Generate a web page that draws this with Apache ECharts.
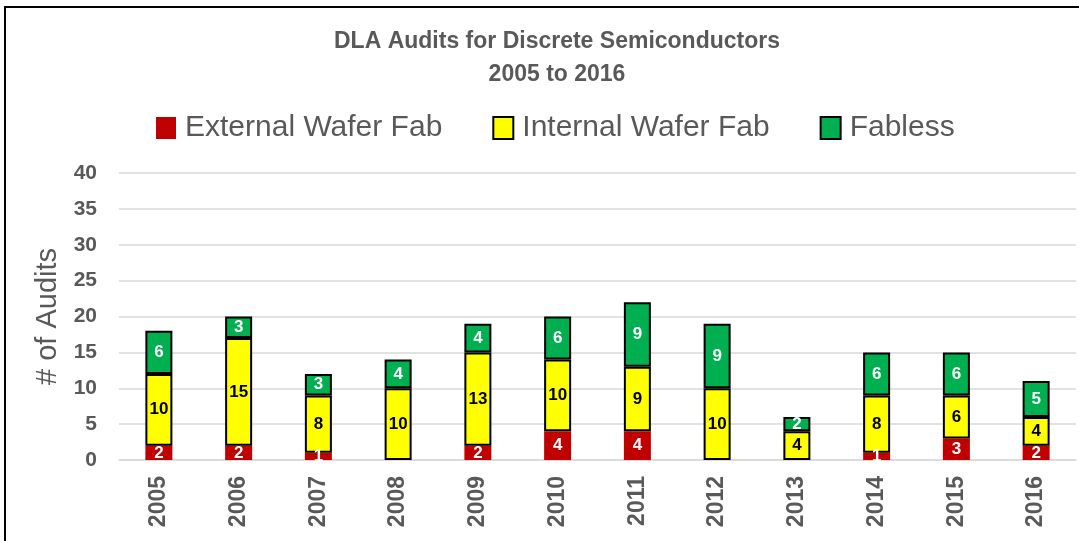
<!DOCTYPE html>
<html>
<head>
<meta charset="utf-8">
<script src="https://cdn.jsdelivr.net/npm/echarts@6/dist/echarts.min.js"></script>
<style>
  html, body { margin: 0; padding: 0; background: #fff; }
  #chart { width: 1079px; height: 541px; }
</style>
</head>
<body>
<div id="chart"></div>
<script>
// 数据
var years = ['2005','2006','2007','2008','2009','2010','2011','2012','2013','2014','2015','2016']
var externalFab = [2, 2, 1, 0, 2, 4, 4, 0, 0, 1, 3, 2]
var internalFab = [10, 15, 8, 10, 13, 10, 9, 10, 4, 8, 6, 4]
var fabless = [6, 3, 3, 4, 4, 6, 9, 9, 2, 6, 6, 5]

var font = 'Liberation Sans, sans-serif'
var grey = '#595959'

// 0 不显示
function hideZero (p) {
    return p.value === 0 ? '' : p.value
}

var chartDom = document.getElementById('chart')
var myChart = echarts.init(chartDom)

var option = {
    animation: false,
    textStyle: { fontFamily: font },
    graphic: [{
        type: 'rect',
        shape: { x: 5, y: 7, width: 1200, height: 600 },
        style: { fill: 'none', stroke: '#000', lineWidth: 2 },
        silent: true
    }],
    title: {
        text: 'DLA Audits for Discrete Semiconductors\n2005 to 2016',
        left: 552,
        textAlign: 'center',
        top: 20,
        textStyle: { fontSize: 23, fontWeight: 'bold', color: grey, lineHeight: 33, fontFamily: font }
    },
    legend: {
        top: 108,
        left: 151,
        icon: 'rect',
        itemWidth: 20,
        itemHeight: 22,
        itemGap: 50,
        textStyle: { fontSize: 30, color: grey, fontFamily: font, padding: [0, 0, 0, 4] },
        data: ['External Wafer Fab', 'Internal Wafer Fab', 'Fabless']
    },
    grid: { left: 119, right: 3, top: 173, bottom: 81, containLabel: false },
    xAxis: {
        type: 'category',
        data: years,
        axisLine: { lineStyle: { color: '#D9D9D9', width: 1.5 } },
        axisTick: { show: false },
        axisLabel: { rotate: 90, fontSize: 23, fontWeight: 'bold', color: grey, margin: 16, fontFamily: font }
    },
    yAxis: {
        type: 'value',
        min: 0,
        max: 40,
        interval: 5,
        name: '# of Audits',
        nameLocation: 'middle',
        nameGap: 56,
        nameTextStyle: { fontSize: 29, color: grey, fontFamily: font },
        axisLine: { show: false },
        axisTick: { show: false },
        axisLabel: { fontSize: 21, fontWeight: 'bold', color: grey, margin: 22, fontFamily: font },
        splitLine: { lineStyle: { color: '#D9D9D9', width: 1.5 } }
    },
    series: [{
        name: 'External Wafer Fab',
        type: 'bar',
        stack: 'total',
        barWidth: 27,
        data: externalFab,
        itemStyle: { color: '#C00000' },
        label: { show: true, formatter: hideZero, color: '#fff', fontWeight: 'bold', fontSize: 17, fontFamily: font }
    }, {
        name: 'Internal Wafer Fab',
        type: 'bar',
        stack: 'total',
        data: internalFab,
        itemStyle: { color: '#FFFF00', borderColor: '#000', borderWidth: 2 },
        label: { show: true, formatter: hideZero, color: '#000', fontWeight: 'bold', fontSize: 17, fontFamily: font }
    }, {
        name: 'Fabless',
        type: 'bar',
        stack: 'total',
        data: fabless,
        itemStyle: { color: '#00B050', borderColor: '#000', borderWidth: 2 },
        label: { show: true, formatter: hideZero, color: '#fff', fontWeight: 'bold', fontSize: 17, fontFamily: font }
    }]
}

myChart.setOption(option)

window.onresize = function () {
    myChart.resize()
}
</script>
</body>
</html>
